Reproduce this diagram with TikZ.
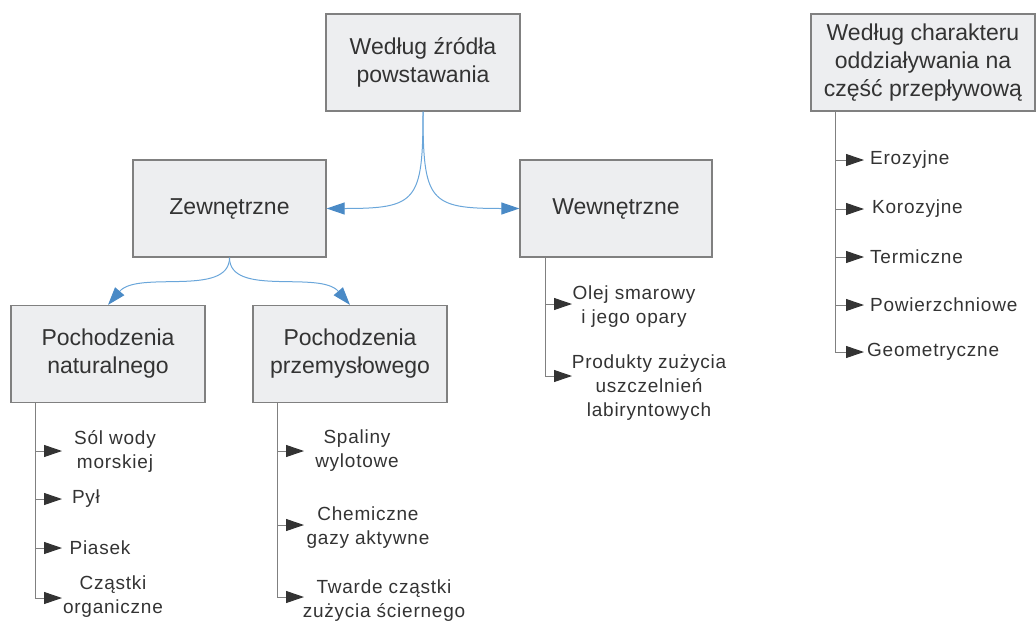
\documentclass[tikz,border=0pt]{standalone}
\usepackage{fontspec}
\setmainfont{Liberation Sans}
\newfontfamily\leaffont[LetterSpace=4]{Liberation Sans}
\usetikzlibrary{arrows.meta}
\definecolor{boxfill}{HTML}{EDEEF0}
\definecolor{boxline}{HTML}{808080}
\definecolor{conn}{HTML}{6AA6DA}
\definecolor{tipblue}{HTML}{4A8AC6}
\definecolor{txt}{HTML}{333333}
\definecolor{leafline}{HTML}{808080}
\definecolor{leaftip}{HTML}{333333}
\begin{document}
\begin{tikzpicture}[x=1pt,y=-1pt,
  catbox/.style={draw=boxline, line width=1.2pt, fill=boxfill, text=txt,
    font=\fontsize{23}{28}\selectfont, align=center, inner sep=0pt,
    minimum height=97pt},
  leaf/.style={text=txt, font=\leaffont\fontsize{19}{24}\selectfont, align=center, inner sep=0pt},
  blueconn/.style={draw=conn, line width=1pt, -{Triangle[length=18pt,width=12pt,color=tipblue]}},
  trunk/.style={draw=leafline, line width=1pt},
  leafarr/.style={draw=leafline, line width=1pt, -{Triangle[length=18pt,width=12pt,color=leaftip]}}]
\useasboundingbox (0,0) rectangle (1036,624);

% boxes
\node[catbox, minimum width=194pt] (top) at (423,62.5) {Według źródła\\powstawania};
\node[catbox, minimum width=193pt] (zew) at (229.5,208.5) {Zewnętrzne};
\node[catbox, minimum width=192pt] (wew) at (616,208.5) {Wewnętrzne};
\node[catbox, minimum width=194pt] (nat) at (108,354) {Pochodzenia\\naturalnego};
\node[catbox, minimum width=194pt] (prz) at (350,354) {Pochodzenia\\przemysłowego};
\node[catbox, minimum width=224pt] (chr) at (923,62.5) {Według charakteru\\oddziaływania na\\część przepływową};

% blue connectors
\draw[blueconn] (top.south) .. controls +(0,90) and +(90,0) .. (zew.east);
\draw[blueconn] (top.south) .. controls +(0,90) and +(-90,0) .. (wew.west);
\draw[blueconn] (zew.south) .. controls +(0,40) and +(30,-35) .. (nat.north);
\draw[blueconn] (zew.south) .. controls +(0,40) and +(-30,-35) .. (prz.north);

% natural
\coordinate (n1) at (35,451);
\coordinate (n2) at (35,499);
\coordinate (n3) at (35,548);
\coordinate (n4) at (35,598);
\node[leaf] (ln1) at (115,451) {Sól wody\\morskiej};
\node[leaf] (ln2) at (86,499) {Pył};
\node[leaf] (ln3) at (100,548) {Piasek};
\node[leaf] (ln4) at (113,597) {Cząstki\\organiczne};
\draw[trunk] (nat.south -| n1) -- (n4);
\foreach \c in {n1,n2,n3,n4} \draw[leafarr] (\c) -- ++(27,0);

% industrial
\coordinate (p1) at (277,451);
\coordinate (p2) at (277,525);
\coordinate (p3) at (277,597);
\node[leaf] (lp1) at (357,451) {Spaliny\\wylotowe};
\node[leaf] (lp2) at (368,528) {Chemiczne\\gazy aktywne};
\node[leaf] (lp3) at (384,601) {Twarde cząstki\\zużycia ściernego};
\draw[trunk] (prz.south -| p1) -- (p3);
\foreach \c in {p1,p2,p3} \draw[leafarr] (\c) -- ++(27,0);

% internal
\coordinate (w1) at (545,304);
\coordinate (w2) at (545,376);
\node[leaf] (lw1) at (634,306.5) {Olej smarowy\\i jego opary};
\node[leaf] (lw2) at (649,388) {Produkty zużycia\\uszczelnień\\labiryntowych};
\draw[trunk] (wew.south -| w1) -- (w2);
\foreach \c in {w1,w2} \draw[leafarr] (\c) -- ++(27,0);

% character
\coordinate (r1) at (835,160);
\coordinate (r2) at (835,209);
\coordinate (r3) at (835,257);
\coordinate (r4) at (835,305);
\coordinate (r5) at (835,352);
\node[leaf, anchor=west] (lr1) at (870,160) {Erozyjne};
\node[leaf, anchor=west] (lr2) at (872,209) {Korozyjne};
\node[leaf, anchor=west] (lr3) at (870,257) {Termiczne};
\node[leaf, anchor=west] (lr4) at (870,305) {Powierzchniowe};
\node[leaf, anchor=west] (lr5) at (867,352) {Geometryczne};
\draw[trunk] (chr.south -| r1) -- (r5);
\foreach \c in {r1,r2,r3,r4,r5} \draw[leafarr] (\c) -- ++(29,0);
\end{tikzpicture}
\end{document}
